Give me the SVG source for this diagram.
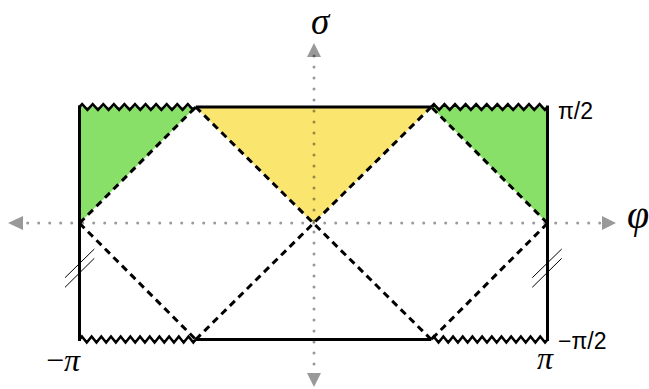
<svg xmlns="http://www.w3.org/2000/svg" width="649" height="389" viewBox="0 0 649 389">
<style>
.axis{stroke:#000;stroke-opacity:0.4;stroke-width:3;stroke-linecap:round;stroke-dasharray:0 11;fill:none}
.ahead{fill:#000;fill-opacity:0.4}
.dash{stroke:#000;stroke-width:3;stroke-dasharray:7 5;fill:none}
.solid{stroke:#000;stroke-width:3;fill:none;stroke-linejoin:miter}
.zig{stroke:#000;stroke-width:2.6;fill:none;stroke-linejoin:miter}
.thin{stroke:#000;stroke-width:1;fill:none}
.math{font-family:"Liberation Serif","DejaVu Serif",serif;font-style:italic;fill:#000}
.sans{font-family:"Liberation Sans","DejaVu Sans",sans-serif;font-size:23px;fill:#000}
.green{fill:#88E068}
.yellow{fill:#FAE56E}
</style>
<g id="regions">
<polygon class="green" points="79.5,107 195.75,107 79.5,223.25"/>
<polygon class="green" points="431.25,107 547.5,107 547.5,223.25"/>
<polygon class="yellow" points="195.75,107 431.25,107 313.5,223.25"/>
</g>
<g id="axes">
<line class="axis" x1="27.7" y1="223" x2="600" y2="223"/>
<line class="axis" x1="314" y1="56" x2="314" y2="372"/>
<polygon class="ahead" points="8,223 23,216 23,230"/>
<polygon class="ahead" points="616,223 602,216 602,230"/>
<polygon class="ahead" points="314,43 307,57 321,57"/>
<polygon class="ahead" points="314,387 307,373 321,373"/>
</g>
<g id="connectors">
<line class="dash" x1="79.5" y1="223.25" x2="195.75" y2="107"/>
<line class="dash" x1="79.5" y1="223.25" x2="195.75" y2="339.5"/>
<line class="dash" x1="195.75" y1="107" x2="431.25" y2="339.5"/>
<line class="dash" x1="431.25" y1="107" x2="195.75" y2="339.5"/>
<line class="dash" x1="547.5" y1="223.25" x2="431.25" y2="107"/>
<line class="dash" x1="547.5" y1="223.25" x2="431.25" y2="339.5"/>
</g>
<g id="boundary">
<line class="solid" x1="79.5" y1="105.5" x2="79.5" y2="341"/>
<line class="solid" x1="547.5" y1="105.5" x2="547.5" y2="341"/>
<line class="solid" x1="195.75" y1="107" x2="431.25" y2="107"/>
<line class="solid" x1="195.75" y1="339.5" x2="431.25" y2="339.5"/>
<path class="zig" d="M79.5,107 l2.642,-2.8 l5.284,5.6 l5.284,-5.6 l5.284,5.6 l5.284,-5.6 l5.284,5.6 l5.284,-5.6 l5.284,5.6 l5.284,-5.6 l5.284,5.6 l5.284,-5.6 l5.284,5.6 l5.284,-5.6 l5.284,5.6 l5.284,-5.6 l5.284,5.6 l5.284,-5.6 l5.284,5.6 l5.284,-5.6 l5.284,5.6 l5.284,-5.6 l5.284,5.6 l2.642,-2.8"/>
<path class="zig" d="M431.25,107 l2.642,-2.8 l5.284,5.6 l5.284,-5.6 l5.284,5.6 l5.284,-5.6 l5.284,5.6 l5.284,-5.6 l5.284,5.6 l5.284,-5.6 l5.284,5.6 l5.284,-5.6 l5.284,5.6 l5.284,-5.6 l5.284,5.6 l5.284,-5.6 l5.284,5.6 l5.284,-5.6 l5.284,5.6 l5.284,-5.6 l5.284,5.6 l5.284,-5.6 l5.284,5.6 l2.642,-2.8"/>
<path class="zig" d="M79.5,339.5 l2.422,-3 l4.844,6 l4.844,-6 l4.844,6 l4.844,-6 l4.844,6 l4.844,-6 l4.844,6 l4.844,-6 l4.844,6 l4.844,-6 l4.844,6 l4.844,-6 l4.844,6 l4.844,-6 l4.844,6 l4.844,-6 l4.844,6 l4.844,-6 l4.844,6 l4.844,-6 l4.844,6 l4.844,-6 l4.844,6 l2.422,-3"/>
<path class="zig" d="M431.25,339.5 l2.422,-3 l4.844,6 l4.844,-6 l4.844,6 l4.844,-6 l4.844,6 l4.844,-6 l4.844,6 l4.844,-6 l4.844,6 l4.844,-6 l4.844,6 l4.844,-6 l4.844,6 l4.844,-6 l4.844,6 l4.844,-6 l4.844,6 l4.844,-6 l4.844,6 l4.844,-6 l4.844,6 l4.844,-6 l4.844,6 l2.422,-3"/>
<line class="thin" x1="65" y1="277.7" x2="94.3" y2="249"/>
<line class="thin" x1="65" y1="287.3" x2="94.3" y2="258.3"/>
<line class="thin" x1="532.3" y1="277.7" x2="561.7" y2="249"/>
<line class="thin" x1="532.3" y1="287.3" x2="561.7" y2="258.3"/>
</g>
<g id="labels">
<text class="math" x="320" y="34" font-size="37" text-anchor="middle">σ</text>
<text class="math" x="627" y="228" font-size="40">φ</text>
<text class="sans" x="558" y="119">π/2</text>
<text class="sans" x="558" y="349">−π/2</text>
<text class="math" x="46" y="371" font-size="32"><tspan font-style="normal">−</tspan>π</text>
<text class="math" x="537" y="369" font-size="32">π</text>
</g>
</svg>
